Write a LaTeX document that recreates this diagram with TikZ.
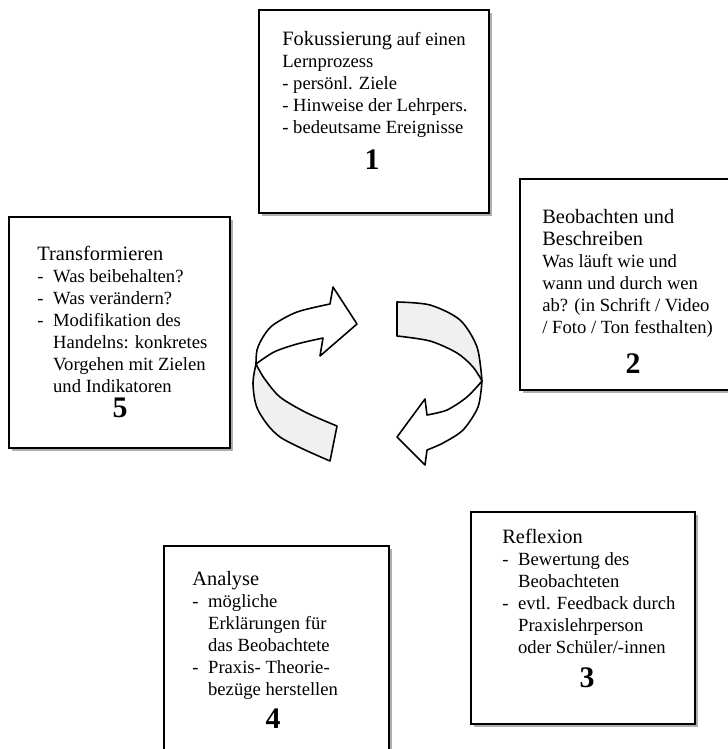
\documentclass[tikz,border=0pt]{standalone}
\usepackage{fontspec}
\setmainfont{Liberation Serif}
\usetikzlibrary{shadows}

\newcommand{\ttl}[1]{{\fontsize{11.6}{12.5}\selectfont #1}}
\newcommand{\itm}{\makebox[9pt][l]{-}}
\newcommand{\cnt}{\hspace*{9pt}}

\begin{document}
\begin{tikzpicture}[
    x=0.02cm, y=-0.02cm,
    stage/.style={rectangle, draw, line width=0.8pt, fill=white, inner sep=0pt,
        drop shadow={shadow xshift=1.8pt, shadow yshift=-1.8pt, fill=black!45, opacity=0.7}},
    txt/.style={anchor=north west, inner sep=0pt, align=left, font=\fontsize{10.6}{12.5}\selectfont},
    num/.style={anchor=base, inner sep=0pt, font=\fontsize{17}{17}\selectfont\bfseries},
    ribbon/.style={draw, line width=0.9pt, line join=round},
    back/.style={ribbon, fill=black!6},
    front/.style={ribbon, fill=white}
]
    \useasboundingbox (0,0) rectangle (727,749);

    % 1 Fokussierung
    \node[stage, minimum width=4.6cm, minimum height=4.06cm] (fokus) at (374,111.5) {};
    \node[txt] (fokustxt) at (282,31) {\ttl{Fokussierung} auf einen\\Lernprozess\\- persönl. Ziele\\- Hinweise der Lehrpers.\\- bedeutsame Ereignisse};
    \node[num] (fokusnr) at (372,170) {1};

    % 2 Beobachten
    \node[stage, minimum width=4.3cm, minimum height=4.22cm] (beob) at (627.5,284.5) {};
    \node[txt] (beobtxt) at (542,209) {\ttl{Beobachten und}\\\ttl{Beschreiben}\\Was läuft wie und\\wann und durch wen\\ab? (in Schrift / Video\\/ Foto / Ton festhalten)};
    \node[num] (beobnr) at (633,373) {2};

    % 3 Reflexion
    \node[stage, minimum width=4.48cm, minimum height=4.24cm] (reflex) at (583,618) {};
    \node[txt] (reflextxt) at (502,529) {\ttl{Reflexion}\\\itm Bewertung des\\\cnt Beobachteten\\\itm evtl. Feedback durch\\\cnt Praxislehrperson\\\cnt oder Schüler/-innen};
    \node[num] (reflexnr) at (587,687) {3};

    % 4 Analyse
    \node[stage, minimum width=4.5cm, minimum height=4.48cm] (analyse) at (276.5,658) {};
    \node[txt] (analysetxt) at (192,571) {\ttl{Analyse}\\\itm mögliche\\\cnt Erklärungen für\\\cnt das Beobachtete\\\itm Praxis- Theorie-\\\cnt bezüge herstellen};
    \node[num] (analysenr) at (273,728) {4};

    % 5 Transformieren
    \node[stage, minimum width=4.42cm, minimum height=4.62cm] (transf) at (119.5,332.5) {};
    \node[txt] (transftxt) at (37,246) {\ttl{Transformieren}\\\itm Was beibehalten?\\\itm Was verändern?\\\itm Modifikation des\\\cnt Handelns: konkretes\\\cnt Vorgehen mit Zielen\\\cnt und Indikatoren};
    \node[num] (transfnr) at (120,417) {5};

    % Kreislauf, linker Pfeil
    \draw[back] plot[smooth] coordinates {(256,364) (264,378) (280,397) (307,413) (337,426)}
        -- (330,461) -- plot[smooth] coordinates {(330,461) (280,437) (258,410) (253,384) (256,364)} -- cycle;
    \draw[front] (330,304) -- (333,287) -- (357,324) -- (320,356) -- (323,338)
        -- plot[smooth] coordinates {(323,338) (297,344) (274,352) (256,364)}
        -- plot[smooth] coordinates {(256,364) (257,350) (263,337) (273,325) (297,312) (330,304)} -- cycle;

    % Kreislauf, rechter Pfeil
    \draw[back] plot[smooth] coordinates {(397,302) (430,305) (460,320) (477,347) (482,381)}
        -- plot[smooth] coordinates {(482,381) (473,367) (457,353) (430,341) (397,336)} -- cycle;
    \draw[front] plot[smooth] coordinates {(482,381) (478,407) (463,430) (443,443) (427,450)}
        -- (425,465) -- (397,437) -- (425,399) -- (427,415)
        -- plot[smooth] coordinates {(427,415) (447,410) (467,397) (482,381)} -- cycle;
\end{tikzpicture}
\end{document}
